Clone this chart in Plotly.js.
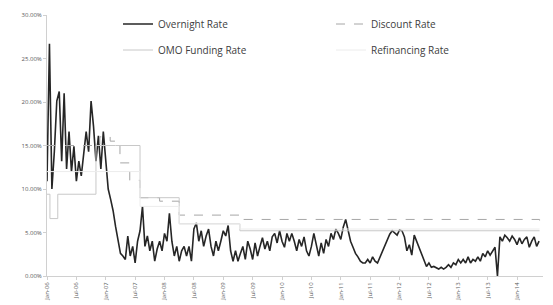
<!DOCTYPE html>
<html><head><meta charset="utf-8">
<script src="https://cdn.plot.ly/plotly-3.0.1.min.js"></script>
<style>html,body{margin:0;padding:0;background:#fff}#chart{width:553px;height:305px}</style>
</head><body><div id="chart"></div>
<script>
// x axis: months since start; tick labels every 6 months
const tickMonths = [0,6,12,18,24,30,36,42,48,54,60,66,72,78,84,90,96];
const tickLabels = ["Jan-06","Jul-06","Jan-07","Jul-07","Jan-08","Jul-08","Jan-09","Jul-09","Jan-10","Jul-10","Jan-11","Jul-11","Jan-12","Jul-12","Jan-13","Jul-13","Jan-14"];

// Overnight rate (%), sampled every half month from month 0
const overnightRate = [10.9,26.7,10.0,14.3,20.1,21.2,13.2,21.0,12.3,16.6,12.0,14.9,10.9,13.2,11.5,14.3,16.6,14.3,20.1,17.2,
13.2,16.1,12.3,16.6,13.2,10.0,8.8,7.5,5.7,4.0,2.6,2.3,1.9,4.6,2.3,3.4,1.5,4.0,5.2,8.0,
3.4,4.6,2.9,4.0,1.7,3.1,4.0,2.9,4.9,4.0,7.2,4.0,2.3,3.4,1.7,2.9,3.4,2.3,3.4,1.7,
5.4,6.1,4.0,5.2,3.4,4.6,5.4,3.4,2.3,4.0,2.9,4.0,5.2,4.6,5.8,2.9,1.7,2.9,1.7,2.6,
3.4,1.9,4.0,3.1,1.9,3.8,2.3,3.4,4.4,3.1,4.0,2.9,4.5,4.9,3.8,5.2,4.0,3.3,4.9,4.0,
4.9,4.0,2.9,4.2,3.4,4.5,2.9,2.3,3.4,4.9,3.4,2.3,3.8,2.6,4.2,3.4,4.9,4.2,5.4,4.9,
4.2,5.6,6.5,5.4,4.0,3.3,2.6,2.2,1.7,1.5,1.5,1.9,1.5,2.2,1.7,1.5,2.2,2.9,3.6,4.2,
4.8,5.2,4.9,4.7,5.3,5.2,4.5,2.9,3.6,2.4,4.7,4.0,3.3,2.6,1.7,1.1,1.5,1.0,1.1,0.9,
0.8,1.0,0.8,1.0,1.3,1.0,1.5,1.3,1.9,1.5,1.9,1.5,2.2,1.5,1.9,1.7,2.2,1.7,2.6,2.2,
2.9,2.4,2.9,3.3,0.0,4.5,4.0,4.7,4.4,4.0,4.6,4.2,3.6,4.4,3.7,4.2,4.5,3.3,4.0,4.5,
3.4,4.0];

// Discount rate (%)
const discountMonths = [0, 10.8, 12.9, 14.9, 16.9, 19.0, 23.0, 27.0, 39.4, 100.6];
const discountRate   = [15.0, 16.0, 15.5, 13.0, 11.0, 9.0, 8.6, 7.0, 6.5, 6.3];

// OMO funding rate (%)
const omoMonths = [0, 0.6, 2.2, 10.0, 14.0, 19.0, 27.0, 39.4, 100.6];
const omoRate   = [9.4, 6.6, 9.4, 15.0, 15.0, 9.0, 6.0, 5.2, 5.2];

// Refinancing rate (%)
const refiMonths = [0, 19.0, 27.0, 39.4, 100.6];
const refiRate   = [12.0, 8.0, 6.0, 5.4, 5.4];

const traces = [
  {x0:0, dx:0.5, y: overnightRate, type:'scatter', mode:'lines', name:'Overnight Rate',
   line:{color:'#262626', width:1.6}, legend:'legend'},
  {x: discountMonths, y: discountRate, type:'scatter', mode:'lines', name:'Discount Rate',
   line:{color:'#a6a6a6', width:1, dash:'dash', shape:'hv'}, legend:'legend2'},
  {x: omoMonths, y: omoRate, type:'scatter', mode:'lines', name:'OMO Funding Rate',
   line:{color:'#c8c8c8', width:1, shape:'hv'}, legend:'legend3'},
  {x: refiMonths, y: refiRate, type:'scatter', mode:'lines', name:'Refinancing Rate',
   line:{color:'#ececec', width:1, shape:'hv'}, legend:'legend4'}
];

const legendCommon = {orientation:'h', xref:'paper', yref:'paper', xanchor:'left', yanchor:'middle',
  font:{family:'Open Sans, sans-serif', size:10, color:'#404040'}, bgcolor:'rgba(0,0,0,0)',
  itemwidth:30};
const col1 = (118-47)/496, col2 = (331-47)/496;
const row1 = (276-24)/262, row2 = (276-50)/262;

const layout = {
  width:553, height:305,
  margin:{l:47, r:10, t:14, b:29},
  paper_bgcolor:'#fff', plot_bgcolor:'#fff',
  showlegend:true,
  legend:  Object.assign({}, legendCommon, {x:col1, y:row1}),
  legend2: Object.assign({}, legendCommon, {x:col2, y:row1}),
  legend3: Object.assign({}, legendCommon, {x:col1, y:row2}),
  legend4: Object.assign({}, legendCommon, {x:col2, y:row2}),
  xaxis:{range:[0, 101.3], tickmode:'array', tickvals:tickMonths, ticktext:tickLabels, tickangle:-90,
    showgrid:false, zeroline:false, showline:true, linecolor:'#d0d0d0', linewidth:1,
    ticks:'outside', ticklen:3, tickcolor:'#d0d0d0', automargin:false,
    tickfont:{family:'Open Sans, sans-serif', size:6, color:'#595959'}},
  yaxis:{range:[0,30], tickvals:[0,5,10,15,20,25,30], automargin:false,
    ticktext:['0.00%','5.00%','10.00%','15.00%','20.00%','25.00%','30.00%'],
    showgrid:false, zeroline:false, showline:true, linecolor:'#d0d0d0', linewidth:1,
    ticks:'outside', ticklen:3, tickcolor:'#d0d0d0',
    tickfont:{family:'Open Sans, sans-serif', size:6, color:'#595959'}}
};

Plotly.newPlot('chart', traces, layout, {displayModeBar:false, staticPlot:true});
</script></body></html>
